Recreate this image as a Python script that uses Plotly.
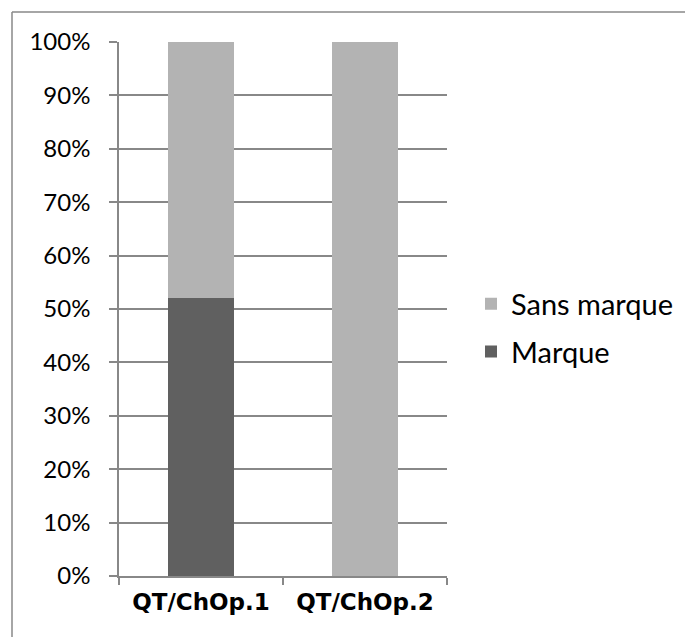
import plotly.graph_objects as go

categories = ["QT/ChOp.1", "QT/ChOp.2"]
marque = [0.52, 0.0]
sans_marque = [0.48, 1.0]
tick_vals = [0, 0.1, 0.2, 0.3, 0.4, 0.5, 0.6, 0.7, 0.8, 0.9, 1.0]
tick_text = ["0%", "10%", "20%", "30%", "40%", "50%", "60%", "70%", "80%", "90%", "100%"]

font_family = "Lato, 'DejaVu Sans', sans-serif"

fig = go.Figure()
fig.add_trace(go.Bar(name="Marque", x=categories, y=marque, marker_color="#606060",
                     marker_line_width=0, legendgroup="b", legendrank=2))
fig.add_trace(go.Bar(name="Sans marque", x=categories, y=sans_marque, marker_color="#b3b3b3",
                     marker_line_width=0, legendgroup="a", legendrank=1))

W, H = 693, 637
# page has an 8px body margin; figure coordinates = screen - 8
L, T = 111, 34
PR, PB = 439, 568
R, B = W - PR, H - PB
pw = PR - L
ph = PB - T

fig.update_layout(
    barmode="stack",
    bargap=0.6,
    width=W, height=H,
    margin=dict(l=L, r=R, t=T, b=B),
    paper_bgcolor="white", plot_bgcolor="white",
    font=dict(family=font_family, size=24, color="#000000"),
    showlegend=True,
    legend=dict(x=(463 - L) / pw, y=(PB - 320) / ph, xanchor="left", yanchor="middle",
                traceorder="grouped", font=dict(size=29),
                itemwidth=30, tracegroupgap=7),
    xaxis=dict(showline=True, linecolor="#888888", linewidth=1.5,
               ticks="outside", tickson="boundaries", ticklen=7, tickcolor="#888888",
               tickwidth=1.5,
               tickfont=dict(size=23, family="'DejaVu Sans', sans-serif", color="#000000", weight="bold"),
               showgrid=False, range=[-0.5, 1.5], ticklabelstandoff=5),
    yaxis=dict(range=[0, 1], tickvals=tick_vals, ticktext=tick_text,
               showline=True, linecolor="#888888", linewidth=1.5,
               ticks="outside", ticklen=8, tickcolor="#888888", tickwidth=1.5,
               showgrid=True, gridcolor="#888888", gridwidth=1.5,
               zeroline=False, ticklabelstandoff=14),
)

# outer chart border (top and left edges visible)
x0 = (4 - L) / pw
y_top = (PB - 4) / ph
fig.add_shape(type="line", xref="paper", yref="paper", x0=x0, x1=(W + 10 - L) / pw,
              y0=y_top, y1=y_top, line=dict(color="#888888", width=1.5))
fig.add_shape(type="line", xref="paper", yref="paper", x0=x0, x1=x0,
              y0=y_top, y1=(PB - H - 10) / ph, line=dict(color="#888888", width=1.5))

fig.write_html("out.html")
